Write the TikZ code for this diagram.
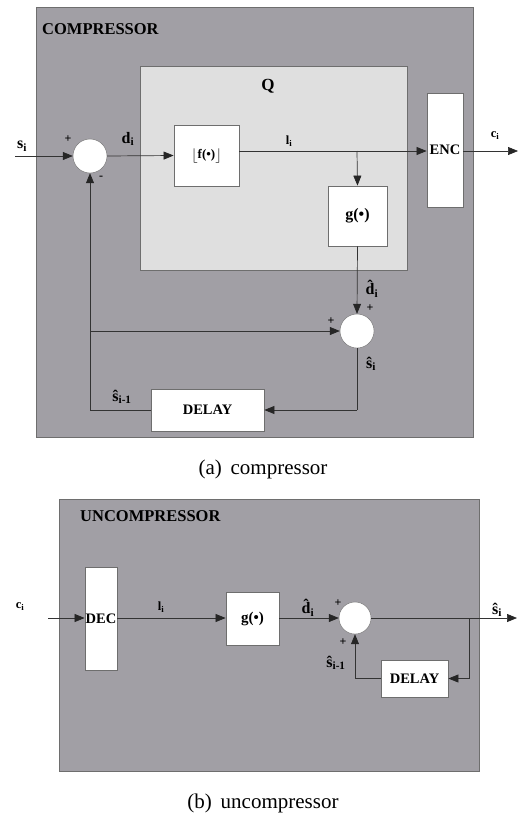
\documentclass[tikz,border=0pt]{standalone}
\usepackage{fontspec}
\setmainfont{Liberation Serif}
\usetikzlibrary{arrows.meta}
\definecolor{outergray}{HTML}{A19FA5}
\definecolor{innergray}{HTML}{DFDFDF}
\definecolor{edgegray}{HTML}{6E6E6E}
\definecolor{linegray}{HTML}{333333}
\tikzset{
  frame/.style={draw=edgegray, line width=0.8pt},
  blockbox/.style={draw=edgegray, fill=white, line width=0.8pt, inner sep=0pt,
     font=\fontsize{14.5}{16}\selectfont\bfseries},
  sumnode/.style={circle, fill=white, draw=edgegray, line width=0.4pt, inner sep=0pt, minimum size=#1},
  conn/.style={draw=linegray, line width=0.7pt},
  arr/.style={conn, -{Triangle[length=10pt,width=8pt,color=black!85]}},
  siglab/.style={font=\fontsize{16}{18}\selectfont\bfseries, inner sep=0pt},
  smalllab/.style={font=\fontsize{12.5}{14}\selectfont\bfseries, inner sep=0pt},
  signlab/.style={font=\fontsize{12}{13}\selectfont\bfseries, inner sep=0pt},
  titlelab/.style={font=\fontsize{16.5}{18}\selectfont\bfseries, inner sep=0pt, anchor=west},
  caplab/.style={font=\fontsize{21}{24}\selectfont, inner sep=0pt}
}
\begin{document}
\begin{tikzpicture}[x=1pt, y=-1pt]
\useasboundingbox (0,0) rectangle (526,814);
% ================= compressor =================
\path[frame, fill=outergray] (36,7) rectangle (473,437);
\node[titlelab] (ctitle) at (42,29) {COMPRESSOR};
\path[frame, fill=innergray, line width=0.6pt] (140,66) rectangle (407,270);
\node[titlelab, anchor=center, font=\fontsize{17}{18}\selectfont\bfseries] (qlab) at (268,86) {Q};

\node[sumnode=34pt] (sum1) at (90,156) {};
\node[blockbox, minimum width=65pt, minimum height=61pt] (f) at (206.5,155.5)
  {$\lfloor$\raisebox{1pt}{\fontsize{13}{14}\selectfont f(•)}$\rfloor$};
\node[blockbox, minimum width=59pt, minimum height=60pt, font=\fontsize{16}{18}\selectfont\bfseries] (g) at (357.5,216) {g(•)};
\node[blockbox, minimum width=36pt, minimum height=114pt] (enc) at (445,150) {ENC};
\node[sumnode=34pt] (sum2) at (357,331) {};
\node[blockbox, minimum width=113pt, minimum height=42pt] (delay) at (207.5,410) {DELAY};

\coordinate (cin) at (15,156);
\coordinate (cj) at (357,151);
\coordinate (cout) at (518,151);
\coordinate (fbl) at (90,410);
\coordinate (fbm) at (90,331);
\coordinate (fbr) at (357,410);

\draw[arr] (cin) -- (sum1.west);
\draw[arr] (sum1.east) -- (f.west);
\draw[conn] (f.east |- cj) -- (cj);
\draw[arr] (cj) -- (enc.west |- cj);
\draw[arr] (cj) -- (g.north);
\draw[arr] (enc.east |- cout) -- (cout);
\draw[arr] (g.south) -- (sum2.north);
\draw[conn] (sum2.south) -- (fbr);
\draw[arr] (fbr) -- (delay.east);
\draw[conn] (delay.west) -- (fbl);
\draw[arr] (fbl) -- (sum1.south);
\draw[arr] (fbm) -- (sum2.west);

\node[siglab] (lsi) at (22,146) {s\textsubscript{i}};
\node[siglab] (ldi) at (128,139) {d\textsubscript{i}};
\node[smalllab] (lli) at (289,141) {l\textsubscript{i}};
\node[smalllab] (lci) at (495,136) {c\textsubscript{i}};
\node[siglab] (ldh) at (372,289) {\^{d}\textsubscript{i}};
\node[siglab] (lsh) at (371,364) {ŝ\textsubscript{i}};
\node[siglab] (lshm) at (122,397) {ŝ\textsubscript{i-1}};
\node[signlab] (p1) at (68,139) {+};
\node[signlab] (m1) at (101,178) {-};
\node[signlab] (p2) at (370,308) {+};
\node[signlab] (p3) at (331,321) {+};

\node[caplab] (capa) at (263,469) {(a)\, compressor};

% ================= uncompressor =================
\path[frame, fill=outergray] (59,499) rectangle (479,771);
\node[titlelab] (utitle) at (80,516) {UNCOMPRESSOR};

\node[blockbox, minimum width=32pt, minimum height=103pt] (dec) at (101,618.5) {DEC};
\node[blockbox, minimum width=53pt, minimum height=53pt, font=\fontsize{15}{16}\selectfont\bfseries] (ug) at (252.5,618.5) {g(•)};
\node[sumnode=32pt] (usum) at (355,618) {};
\node[blockbox, minimum width=67pt, minimum height=37pt] (udelay) at (414.5,678.5) {DELAY};

\coordinate (uin) at (48,618);
\coordinate (uj) at (469,618);
\coordinate (uout) at (517,618);
\coordinate (ujd) at (469,678.5);
\coordinate (ubl) at (355,678.5);

\draw[arr] (uin) -- (dec.west |- uin);
\draw[arr] (dec.east |- uin) -- (ug.west |- uin);
\draw[arr] (ug.east |- uin) -- (usum.west);
\draw[conn] (usum.east) -- (uj);
\draw[arr] (uj) -- (uout);
\draw[conn] (uj) -- (ujd);
\draw[arr] (ujd) -- (udelay.east);
\draw[conn] (udelay.west) -- (ubl);
\draw[arr] (ubl) -- (usum.south);

\node[smalllab] (uci) at (20,607) {c\textsubscript{i}};
\node[smalllab] (uli) at (161,607) {l\textsubscript{i}};
\node[siglab] (udh) at (308,608) {\^{d}\textsubscript{i}};
\node[siglab] (ush) at (497,610) {ŝ\textsubscript{i}};
\node[siglab] (ushm) at (336,663) {ŝ\textsubscript{i-1}};
\node[signlab] (up1) at (338,603) {+};
\node[signlab] (up2) at (343,642) {+};

\node[caplab] (capb) at (263,803) {(b)\, uncompressor};
\end{tikzpicture}
\end{document}
